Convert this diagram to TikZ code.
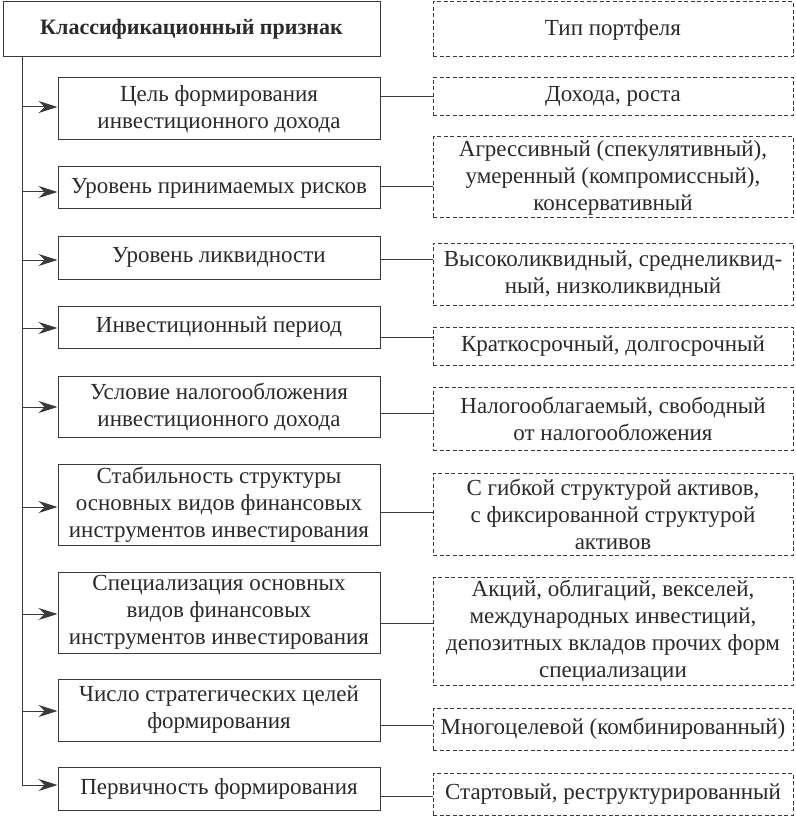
\documentclass[tikz,border=0pt]{standalone}
\usepackage{fontspec}
\setmainfont{Liberation Serif}
\usetikzlibrary{arrows.meta,positioning}
\definecolor{InkGray}{HTML}{2A2A2A}
\definecolor{LineGray}{HTML}{3A3A3A}

\begin{document}
\begin{tikzpicture}[
  x=1pt,y=-1pt,
  crit/.style={draw=LineGray,line width=1pt,minimum width=322pt,align=center,text=InkGray,font=\fontsize{23}{27}\selectfont,inner sep=0pt},
  kind/.style={crit,dash pattern=on 4pt off 2.5pt,minimum width=360pt},
  link/.style={draw=LineGray,line width=1pt},
  feed/.style={link,-{Stealth[length=19pt,width=12pt]}}
]
\useasboundingbox (0,0) rectangle (795,818);

% headers
\node[crit,minimum width=377pt,minimum height=55pt,font=\fontsize{22}{27}\selectfont\bfseries] (head) at (191.5,29.5) {Классификационный признак};
\node[kind,minimum height=55pt] (headtype) at (613,29.5) {Тип портфеля};

% classification criteria
\node[crit,minimum height=62pt] (aim) at (219,109) {Цель формирования\\инвестиционного дохода};
\node[crit,minimum height=42pt] (risk) at (219,188) {Уровень принимаемых рисков};
\node[crit,minimum height=43pt] (liq) at (219,257.5) {Уровень ликвидности};
\node[crit,minimum height=42pt] (term) at (219,327) {Инвестиционный период};
\node[crit,minimum height=61pt] (tax) at (219,406.5) {Условие налогообложения\\инвестиционного дохода};
\node[crit,minimum height=81pt] (stab) at (219,504.5) {Стабильность структуры\\основных видов финансовых\\инструментов инвестирования};
\node[crit,minimum height=81pt] (spec) at (219,612.5) {Специализация основных\\видов финансовых\\инструментов инвестирования};
\node[crit,minimum height=62pt] (goals) at (219,710) {Число стратегических целей\\формирования};
\node[crit,minimum height=43pt] (prim) at (219,788.5) {Первичность формирования};

% portfolio types
\node[kind,minimum height=38pt] (aimtype) at (613,96.5) {Дохода, роста};
\node[kind,minimum height=81pt] (risktype) at (613,177.5) {Агрессивный (спекулятивный),\\умеренный (компромиссный),\\консервативный};
\node[kind,minimum height=62pt] (liqtype) at (613,274) {Высоколиквидный, среднеликвид-\\ный, низколиквидный};
\node[kind,minimum height=38pt] (termtype) at (613,346) {Краткосрочный, долгосрочный};
\node[kind,minimum height=63pt] (taxtype) at (613,418.5) {Налогооблагаемый, свободный\\от налогообложения};
\node[kind,minimum height=82pt] (stabtype) at (613,514) {С гибкой структурой активов,\\с фиксированной структурой\\активов};
\node[kind,minimum height=108pt] (spectype) at (613,631) {Акций, облигаций, векселей,\\международных инвестиций,\\депозитных вкладов прочих форм\\специализации};
\node[kind,minimum height=42pt] (goalstype) at (613,729) {Многоцелевой (комбинированный)};
\node[kind,minimum height=42pt] (primtype) at (613,794) {Стартовый, реструктурированный};

% spine with arrows
\coordinate (spinetop) at (22,57);
\coordinate (spinebot) at (22,785);
\draw[link] (spinetop) -- (spinebot);
\foreach \crit/\y in {aim/107,risk/192,liq/260,term/328,tax/407,stab/507,spec/614,goals/711,prim/785}
  \draw[feed] (spinetop |- 0,\y) -- (\crit.west |- 0,\y);

% criterion to type
\foreach \crit/\y in {aim/97,risk/187,liq/259,term/337,tax/413,stab/512,spec/623,goals/725,prim/796}
  \draw[link] (\crit.east |- 0,\y) -- (\crit type.west |- 0,\y);
\end{tikzpicture}
\end{document}
